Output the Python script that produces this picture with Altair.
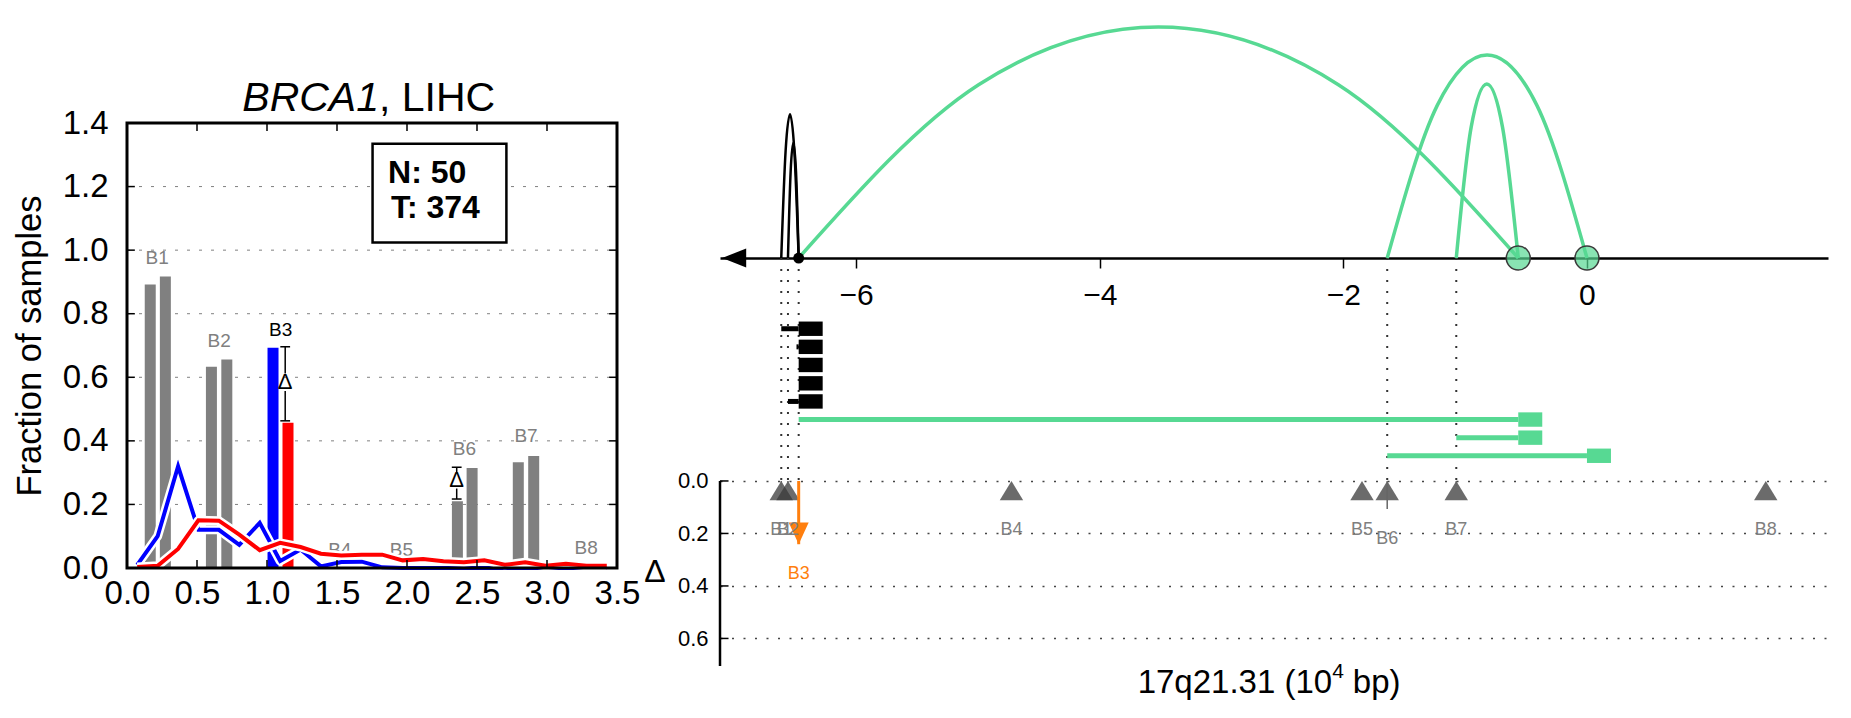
import altair as alt
import pandas as pd

FONT = "Liberation Sans"
GREEN = "#57d993"
GRAY = "#808080"
ORANGE = "#ff7f0e"
BLUE = "#0000ff"
RED = "#ff0000"

# ---------------- Left panel: BRCA1, LIHC ----------------
BIN_X = [0.073, 0.219, 0.365, 0.510, 0.656, 0.802, 0.948, 1.094, 1.240, 1.385,
         1.531, 1.677, 1.823, 1.969, 2.115, 2.260, 2.406, 2.552, 2.698, 2.844,
         2.990, 3.135, 3.281, 3.427]
NORMAL_FRAC = [0.010, 0.100, 0.320, 0.120, 0.120, 0.073, 0.142, 0.022, 0.058, 0.005,
               0.019, 0.020, 0.002, 0.000, 0.000, 0.000, 0.000, 0.000, 0.000, 0.000,
               0.000, 0.000, 0.000, 0.000]
TUMOR_FRAC = [0.003, 0.007, 0.060, 0.150, 0.149, 0.105, 0.056, 0.079, 0.066, 0.045,
              0.039, 0.042, 0.042, 0.024, 0.028, 0.021, 0.018, 0.024, 0.010, 0.018,
              0.007, 0.013, 0.007, 0.007]

BAR_X = [0.166, 0.274, 0.603, 0.713, 1.043, 1.150, 2.360, 2.465, 2.795, 2.905]
BAR_H = [0.892, 0.917, 0.633, 0.656, 0.693, 0.457, 0.210, 0.315, 0.333, 0.352]
BAR_COLOR = [GRAY, GRAY, GRAY, GRAY, BLUE, RED, GRAY, GRAY, GRAY, GRAY]

LEFT_LABEL = ["B1", "B2", "B3", "B4", "B5", "B6", "B7", "B8"]
LEFT_LABEL_X = [0.215, 0.658, 1.097, 1.520, 1.960, 2.410, 2.850, 3.280]
LEFT_LABEL_Y = [0.976, 0.715, 0.750, 0.058, 0.057, 0.373, 0.415, 0.063]
LEFT_LABEL_COLOR = [GRAY, GRAY, "#000000", GRAY, GRAY, GRAY, GRAY, GRAY]

ERR_X = [1.130, 2.355]
ERR_TOP = [0.696, 0.317]
ERR_GAP_TOP = [0.612, 0.300]
ERR_GAP_BOTTOM = [0.557, 0.250]
ERR_BOTTOM = [0.463, 0.217]
ERR_DELTA_Y = [0.585, 0.276]
CAP_HALF = 0.035

LEFT_X_TICKS = [0.0, 0.5, 1.0, 1.5, 2.0, 2.5, 3.0, 3.5]
LEFT_Y_TICKS = [0.0, 0.2, 0.4, 0.6, 0.8, 1.0, 1.2, 1.4]
LEFT_GRID = [0.2, 0.4, 0.6, 0.8, 1.0, 1.2]
LEFT_INNER_XTICKS = [0.5, 1.0, 1.5, 2.0, 2.5, 3.0]
LEFT_XMAX = 3.5
LEFT_YMAX = 1.4
TICK_LEN_X = 0.056
TICK_LEN_Y = 0.025

COUNT_TEXT = ["N: 50", "T: 374"]
COUNT_X = [1.865, 1.885]
COUNT_Y = [1.244, 1.134]
BOX_X = [1.754, 2.710]
BOX_Y = [1.024, 1.335]

TITLE_ITALIC = "BRCA1"
TITLE_REST = ", LIHC"
TITLE_X = 1.80
TITLE_Y = 1.477
LEFT_TOP_SPACER_Y = 1.734

# ---------------- Right panel: 17q21.31 ----------------
R_XMIN, R_XMAX = -7.118, 1.979
R_YMIN, R_YMAX = -1.783, 0.705
AXIS_Y = -0.8495
R_X_TICKS = [-6, -4, -2, 0]
DELTA_TICKS = [0.0, 0.2, 0.4, 0.6]

BP_NAME = ["B1", "B2", "B3", "B4", "B5", "B6", "B7", "B8"]
BP_POS = [-6.615, -6.560, -6.472, -4.725, -1.847, -1.640, -1.073, 1.468]
BP_DELTA = [0.025, 0.023, 0.241, 0.000, 0.000, 0.107, 0.019, 0.000]
BP_SIGNIF = [False, False, True, False, False, False, False, False]
BP_LABEL_Y = [0.188, 0.188, 0.353, 0.188, 0.188, 0.222, 0.188, 0.188]

ARC_NAME = ["A", "B", "C", "K1", "K2"]
ARC_X = [[-6.472, -4.995, -3.518, -2.041, -0.564],
         [-1.640, -1.230, -0.820, -0.410, 0.000],
         [-1.073, -0.951, -0.822, -0.693, -0.564],
         [-6.615, -6.579, -6.543, -6.508, -6.472],
         [-6.560, -6.538, -6.516, -6.494, -6.472]]
ARC_Y = [[-0.8495, -1.5095, -1.7295, -1.5095, -0.8495],
         [-0.8495, -1.4300, -1.6229, -1.4300, -0.8495],
         [-0.8495, -1.3470, -1.5124, -1.3470, -0.8495],
         [-0.8495, -1.2600, -1.3970, -1.2600, -0.8495],
         [-0.8495, -1.1790, -1.2888, -1.1790, -0.8495]]
ARC_COLOR = [GREEN, GREEN, GREEN, "#000000", "#000000"]
ARC_WIDTH = [3.5, 3.5, 3.5, 2.5, 2.5]

CIRCLE_X = [-0.564, 0.000]
DOT_X = [-6.472]
LINK_X = [-6.615, -6.560, -6.472, -1.640, -1.073]

ROW_Y = [-0.580, -0.511, -0.442, -0.372, -0.303, -0.234, -0.165, -0.096]
ROW_START = [-6.615, -6.490, -6.472, -6.472, -6.560, -6.472, -1.073, -1.640]
ROW_END = [-6.472, -6.472, -6.472, -6.472, -6.472, -0.564, -0.564, 0.000]
ROW_COLOR = ["#000000"] * 5 + [GREEN] * 3

ARROW_X = -7.100
DELTA_LABEL_X = -7.652
DELTA_LABEL_Y = 0.345
DELTA_TICK_LEN = 0.07
XT_MAIN = "17q21.31 (10"
XT_SUP = "4"
XT_END = "bp)"
XT_SPLIT = -2.092
XT_END_X = -1.922
XT_Y = 0.770
XT_SUP_Y = 0.728

# symbol paths (shape styles)
TRI_UP = "M0,0L1,1.65L-1,1.65Z"
TRI_DOWN = "M0,0L-1,-2.16L1,-2.16Z"
ARROW_LEFT = "M0,0L2,-0.8L2,0.8Z"
END_BOX = "M0,-0.3L1,-0.3L1,0.3L0,0.3Z"

# ======================= LEFT CHART =======================
xl = alt.Scale(domain=[0, LEFT_XMAX], nice=False, zero=False)
yl = alt.Scale(domain=[0, LEFT_YMAX], nice=False, zero=False)

left_x_axis = alt.Axis(values=LEFT_X_TICKS, format=".1f", labelFontSize=33, labelFont=FONT,
                       labelColor="black", labelPadding=9, labelFlush=False, ticks=False,
                       tickSize=0, domain=False, grid=False, title=None)
left_y_axis = alt.Axis(values=LEFT_Y_TICKS, format=".1f", labelFontSize=33, labelFont=FONT,
                       labelColor="black", labelPadding=14, ticks=False, tickSize=0,
                       domain=False, grid=False, title="Fraction of samples", titleFont=FONT,
                       titleFontSize=34.5, titleFontWeight="normal", titleColor="black",
                       titlePadding=15)


def LX(f):
    return alt.X(f, type="quantitative", scale=xl, axis=left_x_axis)


def LY(f):
    return alt.Y(f, type="quantitative", scale=yl, axis=left_y_axis)


grid_l = alt.Chart(pd.DataFrame({"y": LEFT_GRID, "x0": 0.0, "x1": LEFT_XMAX})).mark_rule(
    color="#808080", strokeWidth=1, strokeDash=[3, 9]).encode(x=LX("x0"), x2="x1", y=LY("y"))

bars = alt.Chart(pd.DataFrame({"x": BAR_X, "h": BAR_H, "c": BAR_COLOR})).mark_bar(size=11).encode(
    x=LX("x"), y=LY("h"), color=alt.Color("c", type="nominal", scale=None))

lbl_l = alt.Chart(pd.DataFrame({"x": LEFT_LABEL_X, "y": LEFT_LABEL_Y, "t": LEFT_LABEL,
                                "c": LEFT_LABEL_COLOR})).mark_text(
    font=FONT, fontSize=19).encode(x=LX("x"), y=LY("y"), text="t:N",
                                   color=alt.Color("c", type="nominal", scale=None))

norm_df = pd.DataFrame({"x": BIN_X, "y": NORMAL_FRAC})
tum_df = pd.DataFrame({"x": BIN_X, "y": TUMOR_FRAC})
halo_n = alt.Chart(norm_df).mark_line(color="white", strokeWidth=9, strokeJoin="round").encode(
    x=LX("x"), y=LY("y"))
line_n = alt.Chart(norm_df).mark_line(color=BLUE, strokeWidth=4).encode(x=LX("x"), y=LY("y"))
halo_t = alt.Chart(tum_df).mark_line(color="white", strokeWidth=9, strokeJoin="round").encode(
    x=LX("x"), y=LY("y"))
line_t = alt.Chart(tum_df).mark_line(color=RED, strokeWidth=4).encode(x=LX("x"), y=LY("y"))

seg_df = pd.DataFrame({"x": ERR_X + ERR_X, "y1": ERR_TOP + ERR_GAP_BOTTOM,
                       "y2": ERR_GAP_TOP + ERR_BOTTOM})
err_seg = alt.Chart(seg_df).mark_rule(color="black", strokeWidth=1.5).encode(
    x=LX("x"), y=LY("y1"), y2="y2")
cap_df = pd.DataFrame({"x0": [v - CAP_HALF for v in ERR_X + ERR_X],
                       "x1": [v + CAP_HALF for v in ERR_X + ERR_X],
                       "y": ERR_TOP + ERR_BOTTOM})
err_cap = alt.Chart(cap_df).mark_rule(color="black", strokeWidth=1.5).encode(
    x=LX("x0"), x2="x1", y=LY("y"))
err_delta = alt.Chart(pd.DataFrame({"x": ERR_X, "y": ERR_DELTA_Y})).mark_text(
    text="Δ", font=FONT, fontSize=22, color="black").encode(x=LX("x"), y=LY("y"))

box = alt.Chart(pd.DataFrame({"x0": [BOX_X[0]], "x1": [BOX_X[1]], "y0": [BOX_Y[0]],
                              "y1": [BOX_Y[1]]})).mark_rect(
    fill="white", stroke="black", strokeWidth=2.5).encode(x=LX("x0"), x2="x1", y=LY("y0"), y2="y1")
counts = alt.Chart(pd.DataFrame({"x": COUNT_X, "y": COUNT_Y, "t": COUNT_TEXT})).mark_text(
    font=FONT, fontSize=32, fontWeight="bold", align="left", color="black").encode(
    x=LX("x"), y=LY("y"), text="t:N")

ytick_df = pd.DataFrame({"x0": [0.0] * len(LEFT_GRID) + [LEFT_XMAX - TICK_LEN_X] * len(LEFT_GRID),
                         "x1": [TICK_LEN_X] * len(LEFT_GRID) + [LEFT_XMAX] * len(LEFT_GRID),
                         "y": LEFT_GRID + LEFT_GRID})
yticks_l = alt.Chart(ytick_df).mark_rule(color="black", strokeWidth=1.5).encode(
    x=LX("x0"), x2="x1", y=LY("y"))
xtick_df = pd.DataFrame({"x": LEFT_INNER_XTICKS + LEFT_INNER_XTICKS,
                         "y0": [0.0] * 6 + [LEFT_YMAX - TICK_LEN_Y] * 6,
                         "y1": [TICK_LEN_Y] * 6 + [LEFT_YMAX] * 6})
xticks_l = alt.Chart(xtick_df).mark_rule(color="black", strokeWidth=1.5).encode(
    x=LX("x"), y=LY("y0"), y2="y1")

frame = alt.Chart(pd.DataFrame({"x0": [0.0], "x1": [LEFT_XMAX], "y0": [0.0],
                                "y1": [LEFT_YMAX]})).mark_rect(
    fill="white", fillOpacity=0, stroke="black", strokeWidth=3).encode(
    x=LX("x0"), x2="x1", y=LY("y0"), y2="y1")

title_a = alt.Chart(pd.DataFrame({"x": [TITLE_X], "y": [TITLE_Y], "t": [TITLE_ITALIC]})).mark_text(
    font=FONT, fontSize=41, fontStyle="italic", align="right", color="black").encode(
    x=LX("x"), y=LY("y"), text="t:N")
title_b = alt.Chart(pd.DataFrame({"x": [TITLE_X], "y": [TITLE_Y], "t": [TITLE_REST]})).mark_text(
    font=FONT, fontSize=41, align="left", color="black").encode(
    x=LX("x"), y=LY("y"), text="t:N")
top_pad = alt.Chart(pd.DataFrame({"x0": [0.0], "x1": [0.02], "y": [LEFT_TOP_SPACER_Y]})).mark_rule(
    color="white", strokeWidth=1).encode(x=LX("x0"), x2="x1", y=LY("y"))

left = alt.layer(grid_l, bars, lbl_l, halo_n, line_n, halo_t, line_t, err_seg, err_cap,
                 err_delta, box, counts, yticks_l, xticks_l, frame, title_a, title_b,
                 top_pad).properties(width=500, height=445)

spacer_chart = alt.Chart(pd.DataFrame({"a": [0]})).mark_rule(color="white", strokeWidth=1).encode(
    x=alt.value(0), x2=alt.value(1), y=alt.value(0)).properties(width=1, height=1)

left_group = alt.vconcat(spacer_chart, left, spacing=0)

# ======================= RIGHT CHART =======================
xr = alt.Scale(domain=[R_XMIN, R_XMAX], nice=False, zero=False)
yr = alt.Scale(domain=[R_YMIN, R_YMAX], nice=False, zero=False, reverse=True)

right_x_axis = alt.Axis(values=R_X_TICKS, format="d", orient="bottom", offset=-408,
                        labelFontSize=30, labelFont=FONT, labelColor="black", labelPadding=12,
                        labelFlush=False, tickSize=10, tickWidth=1.5, tickColor="black",
                        domainColor="black", domainWidth=2.5, grid=False, title=None)
right_y_axis = alt.Axis(values=DELTA_TICKS, format=".1f", labelFontSize=22, labelFont=FONT,
                        labelColor="black", labelPadding=12, ticks=False, tickSize=0,
                        domain=False, grid=True, gridColor="#444444", gridWidth=1.4,
                        gridDash=[2, 9.5], title=None)


def RX(f):
    return alt.X(f, type="quantitative", scale=xr, axis=right_x_axis)


def RY(f):
    return alt.Y(f, type="quantitative", scale=yr, axis=right_y_axis)


bp_df = pd.DataFrame({"pos": BP_POS, "delta": BP_DELTA, "sig": BP_SIGNIF, "name": BP_NAME,
                      "ly": BP_LABEL_Y, "zero": 0.0})
tri_df = bp_df[~bp_df["sig"]]
sig_df = bp_df[bp_df["sig"]]

triangles = alt.Chart(tri_df).mark_point(
    shape=TRI_UP, size=548, filled=True, color="#3a3a3a", opacity=0.75).encode(
    x=RX("pos"), y=RY("zero"))

link_df = pd.DataFrame({"x": LINK_X, "y0": AXIS_Y, "y1": 0.0})
links = alt.Chart(link_df).mark_rule(color="#333333", strokeWidth=2, strokeDash=[2, 9]).encode(
    x=RX("x"), y=RY("y0"), y2="y1")

row_df = pd.DataFrame({"x0": ROW_START, "x1": ROW_END, "y": ROW_Y, "c": ROW_COLOR})
row_lines = alt.Chart(row_df).mark_rule(strokeWidth=5).encode(
    x=RX("x0"), x2="x1", y=RY("y"), color=alt.Color("c", type="nominal", scale=None))
row_ends = alt.Chart(row_df).mark_point(shape=END_BOX, size=2304, filled=True, opacity=1).encode(
    x=RX("x1"), y=RY("y"), color=alt.Color("c", type="nominal", scale=None))

arc_rows = []
for name, xs, ys, c, w in zip(ARC_NAME, ARC_X, ARC_Y, ARC_COLOR, ARC_WIDTH):
    for xv, yv in zip(xs, ys):
        arc_rows.append({"id": name, "x": xv, "y": yv, "c": c, "w": w})
arc_df = pd.DataFrame(arc_rows)
arcs = alt.Chart(arc_df).mark_line(interpolate="monotone").encode(
    x=RX("x"), y=RY("y"), detail="id:N",
    color=alt.Color("c", type="nominal", scale=None),
    strokeWidth=alt.StrokeWidth("w", type="quantitative", scale=None))

circles = alt.Chart(pd.DataFrame({"x": CIRCLE_X, "y": AXIS_Y})).mark_point(
    shape="circle", size=573, filled=True, fill=GREEN, fillOpacity=0.7, stroke="#3a3a3a",
    strokeWidth=1.5, strokeOpacity=1, opacity=1).encode(x=RX("x"), y=RY("y"))
dot = alt.Chart(pd.DataFrame({"x": DOT_X, "y": AXIS_Y})).mark_circle(
    size=120, color="black", opacity=1).encode(x=RX("x"), y=RY("y"))
arrow = alt.Chart(pd.DataFrame({"x": [ARROW_X], "y": [AXIS_Y]})).mark_point(
    shape=ARROW_LEFT, size=576, filled=True, color="black", opacity=1).encode(x=RX("x"), y=RY("y"))

delta_lines = alt.Chart(tri_df).mark_rule(color="#666666", strokeWidth=1.5).encode(
    x=RX("pos"), y=RY("zero"), y2="delta")
sig_line = alt.Chart(sig_df).mark_rule(color=ORANGE, strokeWidth=3).encode(
    x=RX("pos"), y=RY("zero"), y2="delta")
sig_head = alt.Chart(sig_df).mark_point(shape=TRI_DOWN, size=400, filled=True, color=ORANGE,
                                        opacity=1).encode(x=RX("pos"), y=RY("delta"))
bp_labels = alt.Chart(tri_df).mark_text(font=FONT, fontSize=18, color="#7f7f7f").encode(
    x=RX("pos"), y=RY("ly"), text="name:N")
sig_label = alt.Chart(sig_df).mark_text(font=FONT, fontSize=18, color=ORANGE).encode(
    x=RX("pos"), y=RY("ly"), text="name:N")

daxis = alt.Chart(pd.DataFrame({"x": [R_XMIN], "y0": [0.0], "y1": [R_YMAX]})).mark_rule(
    color="black", strokeWidth=2.5).encode(x=RX("x"), y=RY("y0"), y2="y1")
dticks = alt.Chart(pd.DataFrame({"x0": R_XMIN, "x1": R_XMIN + DELTA_TICK_LEN,
                                 "y": DELTA_TICKS})).mark_rule(
    color="black", strokeWidth=1.5).encode(x=RX("x0"), x2="x1", y=RY("y"))
dlabel = alt.Chart(pd.DataFrame({"x": [DELTA_LABEL_X], "y": [DELTA_LABEL_Y], "t": ["Δ"]})).mark_text(
    font=FONT, fontSize=32, color="black").encode(x=RX("x"), y=RY("y"), text="t:N")

xt_main = alt.Chart(pd.DataFrame({"x": [XT_SPLIT], "y": [XT_Y], "t": [XT_MAIN]})).mark_text(
    font=FONT, fontSize=33, align="right", color="black").encode(x=RX("x"), y=RY("y"), text="t:N")
xt_sup = alt.Chart(pd.DataFrame({"x": [XT_SPLIT], "y": [XT_SUP_Y], "t": [XT_SUP]})).mark_text(
    font=FONT, fontSize=21, align="left", color="black").encode(x=RX("x"), y=RY("y"), text="t:N")
xt_end = alt.Chart(pd.DataFrame({"x": [XT_END_X], "y": [XT_Y], "t": [XT_END]})).mark_text(
    font=FONT, fontSize=33, align="left", color="black").encode(x=RX("x"), y=RY("y"), text="t:N")

right = alt.layer(triangles, links, row_lines, row_ends, arcs, circles, dot, arrow, delta_lines,
                  sig_line, sig_head, bp_labels, sig_label, daxis, dticks, dlabel, xt_main,
                  xt_sup, xt_end).properties(width=1108, height=653)

chart = alt.hconcat(left_group, right, spacing=2).properties(
    padding={"left": 3, "top": 4, "right": 5, "bottom": 5}
).configure(font=FONT).configure_view(stroke="transparent")

chart.save("out.html", embed_options={"renderer": "svg", "actions": False})
